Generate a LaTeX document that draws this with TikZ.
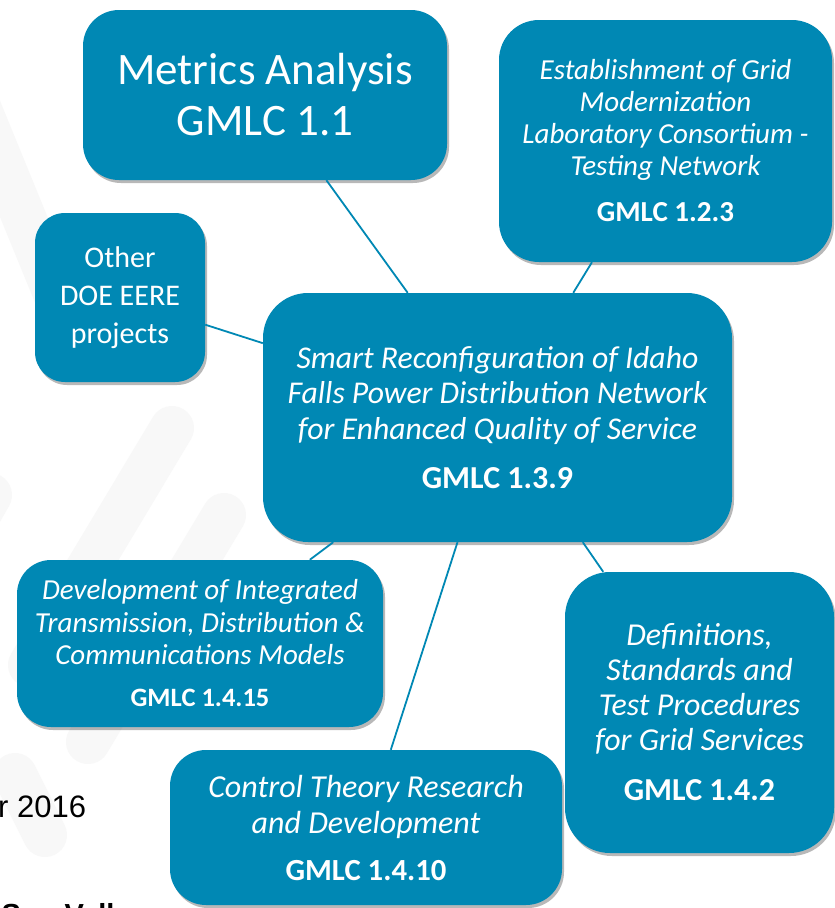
\documentclass[tikz,border=0pt]{standalone}
\usepackage{fontspec}
\setmainfont{Carlito}
\newfontfamily\arialfont{Liberation Sans}
\usetikzlibrary{shadows}
\definecolor{gblue}{RGB}{0,136,180}
\definecolor{stripe}{RGB}{248,248,248}
\newcommand\gmlabel[2][32]{{\fontsize{#1}{#1}\selectfont\upshape\bfseries #2}}
\begin{document}
\begin{tikzpicture}[x=1pt,y=-1pt,
  box/.style={fill=gblue, text=white, align=center, inner sep=0pt,
    rounded corners=#1,
    drop shadow={shadow xshift=2pt, shadow yshift=-3pt, opacity=0.28, fill=black}},
  box/.default=38pt,
  link/.style={draw=gblue, line width=1.8pt},
  bgband/.style={draw=stripe, line width=44pt, line cap=round}
]
\useasboundingbox (0,0) rectangle (835,908);
\clip (0,0) rectangle (835,908);
\fill[white] (0,0) rectangle (835,908);
% faint watermark bands
\draw[bgband] (-20,110) -- (70,330);
\draw[bgband] (172,428) -- (30,665);
\draw[bgband] (224,515) -- (88,742);
\draw[bgband] (-30,530) -- (-10,495);
\draw[bgband] (15,775) -- (45,835);
% boxes
\node[box=36pt, minimum width=364pt, minimum height=170pt,
      font=\fontsize{45}{51}\selectfont] (metrics) at (265,95)
  {Metrics Analysis\\GMLC 1.1};
\node[box=40pt, minimum width=333pt, minimum height=242pt,
      font=\fontsize{29}{32}\selectfont\itshape] (testnet) at (665.5,141)
  {Establishment of Grid\\Modernization\\Laboratory Consortium -\\Testing Network\\[14pt]\gmlabel[29]{GMLC 1.2.3}};
\node[box=30pt, minimum width=170pt, minimum height=169pt,
      font=\fontsize{30}{38}\selectfont] (other) at (120,297.5)
  {Other\\DOE EERE\\projects};
\node[box=45pt, minimum width=469pt, minimum height=249pt,
      font=\fontsize{31.7}{35.5}\selectfont\itshape] (main) at (497.5,417.5)
  {Smart Reconfiguration of Idaho\\Falls Power Distribution Network\\for Enhanced Quality of Service\\[13.5pt]\gmlabel{GMLC 1.3.9}};
\node[box=34pt, minimum width=366pt, minimum height=167pt,
      font=\fontsize{29}{32.5}\selectfont\itshape] (models) at (200,643.5)
  {Development of Integrated\\Transmission, Distribution \&\\Communications Models\\[9.5pt]\gmlabel[26.5]{GMLC 1.4.15}};
\node[box=45pt, minimum width=269pt, minimum height=281pt,
      font=\fontsize{31.9}{35}\selectfont\itshape] (defs) at (699.5,712.5)
  {Definitions,\\Standards and\\Test Procedures\\for Grid Services\\[15pt]\gmlabel{GMLC 1.4.2}};
\node[box=36pt, minimum width=392pt, minimum height=155pt,
      font=\fontsize{32}{36}\selectfont\itshape] (control) at (366,827.5)
  {Control Theory Research\\and Development\\[11pt]\gmlabel[30.7]{GMLC 1.4.10}};
% connectors
\draw[link] (metrics) -- (main);
\draw[link] (testnet) -- (main);
\draw[link] (other) -- (main);
\draw[link] (main) -- (models);
\draw[link] (main) -- (control);
\draw[link] (main) -- (defs);
% cut-off slide texts
\node[anchor=base west, inner sep=0pt, font=\arialfont\fontsize{31}{31}\selectfont] (date) at (-2,817) {r 2016};
\node[anchor=base west, inner sep=0pt, font=\arialfont\bfseries\fontsize{29}{29}\selectfont] (place) at (1.5,924.5) {Sun Valley};
\end{tikzpicture}
\end{document}
